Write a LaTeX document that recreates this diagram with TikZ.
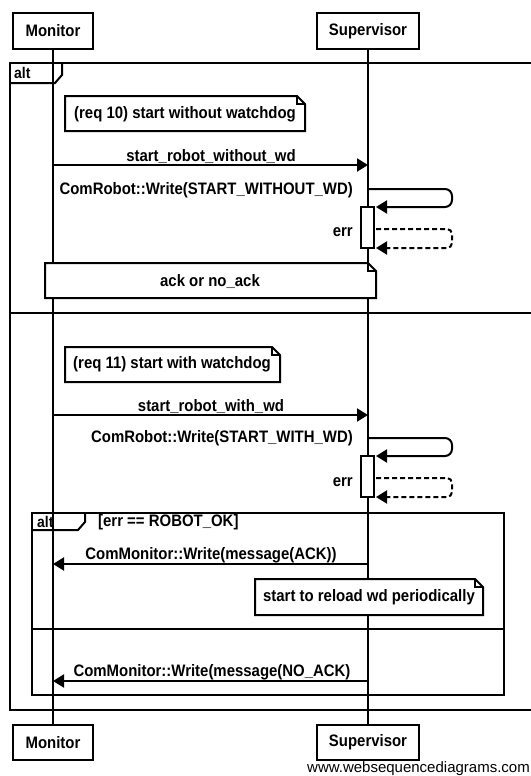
\documentclass[tikz,border=0pt]{standalone}
\usepackage{fontspec}
\setmainfont{Liberation Sans}
\newfontfamily\wsd[FakeStretch=0.9]{Liberation Sans}
\usetikzlibrary{arrows.meta}
\tikzset{
  lw/.style={line width=2pt},
  actor/.style={draw, line width=2pt, fill=white, font=\wsd\bfseries\fontsize{16.6}{19}\selectfont, inner sep=0pt},
  lbl/.style={font=\wsd\bfseries\fontsize{16.6}{19}\selectfont, inner sep=0pt},
  tag/.style={font=\wsd\bfseries\fontsize{15.5}{17}\selectfont, inner sep=0pt, anchor=west},
  msg/.style={line width=2pt, -{Triangle[length=11pt,width=13pt]}},
  ret/.style={msg, dash pattern=on 5pt off 3pt},
  notebox/.style={draw, line width=2pt, fill=white},
  actbox/.style={draw, line width=2pt, fill=white, minimum width=13pt, inner sep=0pt},
}
\newcommand\mynote[4]{%
  \draw[notebox] (#1,#2) -- ({#3-8},#2) -- (#3,{#2+8}) -- (#3,#4) -- (#1,#4) -- cycle;
  \draw[line width=1.5pt] ({#3-8},#2) -- ({#3-8},{#2+8}) -- (#3,{#2+8});
}
\begin{document}
\begin{tikzpicture}[x=1pt,y=-1pt]
\useasboundingbox[fill=white] (0,0) rectangle (530,776);

% outer alt frame
\draw[lw] (10,63) rectangle (534,710);
\draw[lw] (10,83) -- (55,83) -- (62,75) -- (62,63);
\node[tag] (alt1) at (14,73) {alt};
\draw[lw] (10,313) -- (534,313);

% inner alt frame
\draw[lw] (32,513) rectangle (504,695);
\draw[lw] (32,530) -- (78,530) -- (85,522) -- (85,513);
\node[tag] (alt2) at (37,522) {alt};
\node[lbl, anchor=west] (guard) at (98,522) {[err == ROBOT\_OK]};
\draw[lw] (32,629) -- (504,629);

% actors
\node[actor, minimum width=80pt, minimum height=36pt] (mt) at (53,31) {Monitor};
\node[actor, minimum width=102pt, minimum height=36pt] (st) at (368,31) {Supervisor};
\node[actor, minimum width=80pt, minimum height=35pt] (mb) at (53,742.5) {Monitor};
\node[actor, minimum width=102pt, minimum height=35pt] (sb) at (368,742.5) {Supervisor};

% lifelines
\draw[lw] (mt) -- (mb);
\draw[lw] (st) -- (sb);

% note 1
\mynote{65}{96}{305}{131}
\node[lbl] (n1) at (185,114) {(req 10) start without watchdog};

% message 1
\coordinate (m1) at (53,165);
\coordinate (s1) at (368,165);
\draw[msg] (m1) -- (s1);
\node[lbl] (l1) at (211,156) {start\_robot\_without\_wd};

% self call 1
\coordinate (s2) at (368,189);
\coordinate (a1) at (376,207);
\draw[msg, rounded corners=7pt] (s2) -- (452,189) -- (452,207) -- (a1);
\node[lbl, anchor=east] (l2) at (353,190) {ComRobot::Write(START\_WITHOUT\_WD)};
\node[actbox, minimum height=41pt] (act1) at (367.5,227.5) {};
\coordinate (r1a) at (376,229);
\coordinate (r1b) at (376,248);
\draw[ret, rounded corners=5pt] (r1a) -- (452,229) -- (452,248) -- (r1b);
\node[lbl, anchor=east] (e1) at (353,232) {err};

% note ack or no_ack
\mynote{45}{263}{376}{298}
\node[lbl] (n2) at (210,281) {ack or no\_ack};

% note 2
\mynote{65}{347}{280}{382}
\node[lbl] (n3) at (172,364) {(req 11) start with watchdog};

% message 2
\coordinate (m3) at (53,415);
\coordinate (s3) at (368,415);
\draw[msg] (m3) -- (s3);
\node[lbl] (l3) at (211,406) {start\_robot\_with\_wd};

% self call 2
\coordinate (s4) at (368,438);
\coordinate (a2) at (376,456);
\draw[msg, rounded corners=7pt] (s4) -- (452,438) -- (452,456) -- (a2);
\node[lbl, anchor=east] (l4) at (353,438) {ComRobot::Write(START\_WITH\_WD)};
\node[actbox, minimum height=41pt] (act2) at (367.5,476.5) {};
\coordinate (r2a) at (376,478);
\coordinate (r2b) at (376,497);
\draw[ret, rounded corners=5pt] (r2a) -- (452,478) -- (452,497) -- (r2b);
\node[lbl, anchor=east] (e2) at (353,482) {err};

% ACK
\coordinate (s5) at (368,564);
\coordinate (m5) at (53,564);
\draw[msg] (s5) -- (m5);
\node[lbl] (l5) at (211,555) {ComMonitor::Write(message(ACK))};

\mynote{255}{579}{483}{615}
\node[lbl] (n4) at (369,597) {start to reload wd periodically};

% NO_ACK
\coordinate (s6) at (368,681);
\coordinate (m6) at (53,681);
\draw[msg] (s6) -- (m6);
\node[lbl] (l6) at (212,672) {ComMonitor::Write(message(NO\_ACK)};

% watermark
\node[inner sep=0pt, anchor=west, font=\fontsize{15}{18}\selectfont] (wm) at (307,769) {www.websequencediagrams.com};
\end{tikzpicture}
\end{document}
